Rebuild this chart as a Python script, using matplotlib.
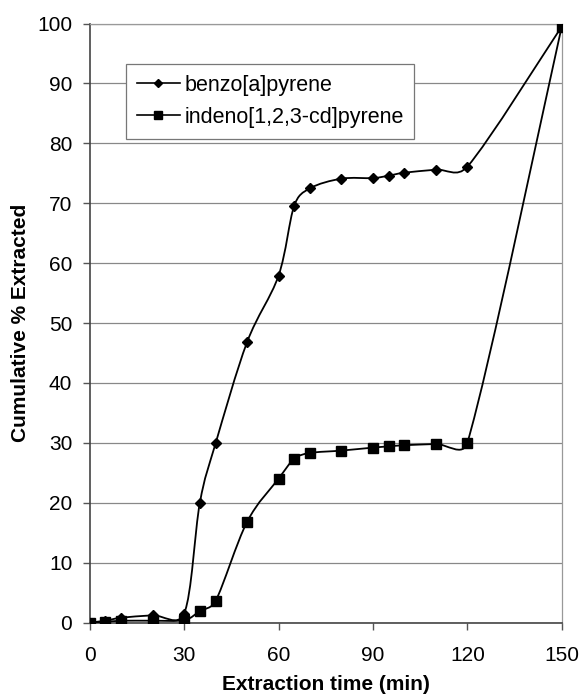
import numpy as np
import matplotlib
matplotlib.use('Agg')
import matplotlib.pyplot as plt
from matplotlib.path import Path
from matplotlib.patches import PathPatch
from matplotlib.lines import Line2D

plt.rcParams['font.family'] = ['Liberation Sans', 'DejaVu Sans']

time_min = [0, 5, 10, 20, 30, 35, 40, 50, 60, 65, 70, 80, 90, 95, 100, 110, 120, 150]
benzo = [0, 0.3, 0.8, 1.2, 1.5, 20, 29.9, 46.8, 57.9, 69.6, 72.5, 74.1, 74.2, 74.6, 75.1, 75.6, 76.1, 99.5]
indeno = [0, 0.1, 0.3, 0.3, 0.4, 1.9, 3.6, 16.8, 24, 27.3, 28.3, 28.7, 29.2, 29.4, 29.6, 29.8, 30.0, 99.5]

series_names = ['benzo[a]pyrene', 'indeno[1,2,3-cd]pyrene']
x_ticks = [0, 30, 60, 90, 120, 150]
y_ticks = list(range(0, 101, 10))

# pixel size of one data unit, used to keep the smoothing like the original
PX_X = 3.147
PX_Y = 5.99


# smoothed line like a spreadsheet chart (cubic bezier through the points)
def smooth_path(xs, ys):
    p = np.column_stack([xs, ys]).astype(float)
    sc = np.array([PX_X, PX_Y])
    n = len(p)

    def clamp(t, seg):
        lt = np.linalg.norm(t * sc)
        ls = np.linalg.norm(seg * sc) * 0.5
        if lt > ls and lt > 0:
            t = t * ls / lt
        return t

    verts = [p[0]]
    codes = [Path.MOVETO]
    for i in range(n - 1):
        p_prev = p[i - 1] if i > 0 else p[i]
        p_next2 = p[i + 2] if i + 2 < n else p[i + 1]
        seg = p[i + 1] - p[i]
        t1 = clamp((p[i + 1] - p_prev) / 6.0, seg)
        t2 = clamp((p_next2 - p[i]) / 6.0, seg)
        verts += [p[i] + t1, p[i + 1] - t2, p[i + 1]]
        codes += [Path.CURVE4] * 3
    return Path(verts, codes)


fig = plt.figure(figsize=(5.8, 6.96), dpi=100)
ax = fig.add_axes([0.1547, 0.1056, 0.8138, 0.8606])

for ys, mk, ms in [(benzo, 'D', 5.5), (indeno, 's', 7.5)]:
    patch = PathPatch(smooth_path(time_min, ys), facecolor='none',
                      edgecolor='black', lw=1.3, zorder=3)
    ax.add_patch(patch)
    ax.plot(time_min, ys, ls='none', marker=mk, ms=ms, color='black',
            mec='black', zorder=4)

ax.set_xlim(0, 150)
ax.set_ylim(0, 100)
ax.set_xticks(x_ticks)
ax.set_yticks(y_ticks)
ax.yaxis.grid(True, color='#888888', lw=0.9)
ax.set_axisbelow(True)

for side in ['left', 'bottom']:
    ax.spines[side].set_color('#444444')
    ax.spines[side].set_linewidth(1.2)
for side in ['top', 'right']:
    ax.spines[side].set_color('#999999')
    ax.spines[side].set_linewidth(0.9)

ax.tick_params(axis='both', direction='out', length=5, width=1,
               color='#555555', labelsize=15)
ax.tick_params(axis='x', pad=12)
ax.tick_params(axis='y', pad=7.5)

ax.set_xlabel('Extraction time (min)', fontsize=15, fontweight='bold', labelpad=7)
ax.set_ylabel('Cumulative % Extracted', fontsize=15, fontweight='bold', labelpad=5)

handles = [
    Line2D([], [], color='black', lw=1.2, marker='D', ms=4),
    Line2D([], [], color='black', lw=1.2, marker='s', ms=5.5),
]
leg = ax.legend(handles, series_names, loc='upper left',
                bbox_to_anchor=(0.077, 0.932), fontsize=15.5, frameon=True,
                fancybox=False, edgecolor='#777777', framealpha=1,
                handlelength=2.0, handletextpad=0.2, borderpad=0.5,
                labelspacing=0.5, borderaxespad=0)
leg.get_frame().set_linewidth(0.9)

fig.savefig('out.png', dpi=100)
